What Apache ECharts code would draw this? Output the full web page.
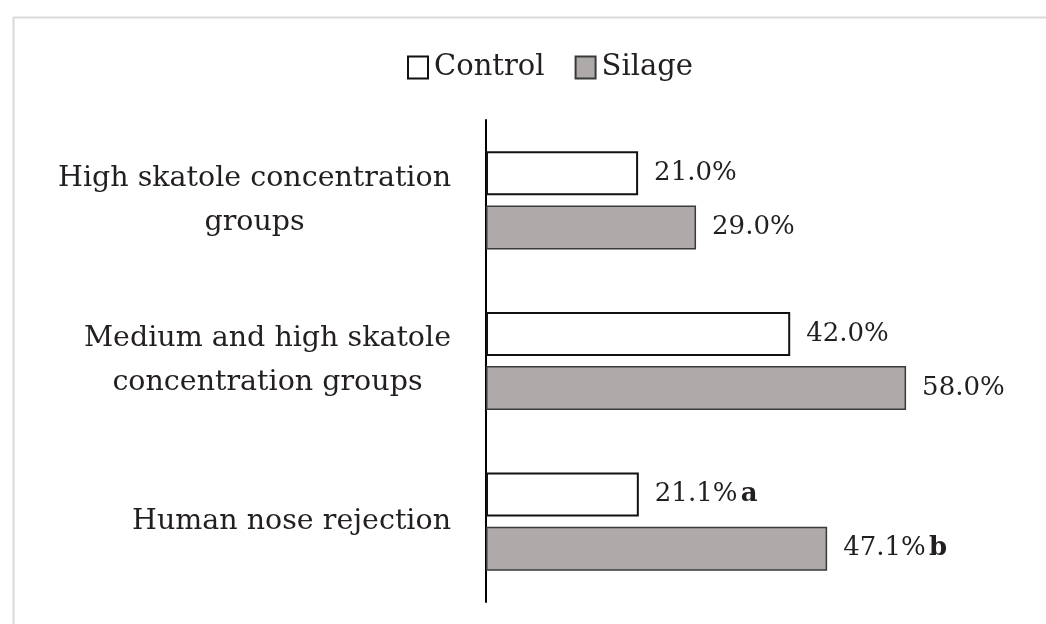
<!DOCTYPE html>
<html>
<head>
<meta charset="utf-8">
<script src="https://cdn.jsdelivr.net/npm/echarts@6/dist/echarts.min.js"></script>
<style>html,body{margin:0;padding:0;background:#fff;}#c{width:1046px;height:624px;}</style>
</head>
<body>
<div id="c"></div>
<script>
const categories = ['High skatole concentration\ngroups', 'Medium and high skatole\nconcentration groups', 'Human nose rejection'];
const controlValues = [21.0, 42.0, 21.1];
const silageValues = [29.0, 58.0, 47.1];
const controlLetters = ['', '', 'a'];
const silageLetters = ['', '', 'b'];

const FONT = 'DejaVu Serif';
const TXT = '#231f20';

function labelFmt(letters) {
  return function (p) {
    const v = p.value.toFixed(1) + '%';
    const l = letters[p.dataIndex];
    return l ? '{v|' + v + '} {s|' + l + '}' : '{v|' + v + '}';
  };
}
const labelRich = {
  v: { fontFamily: FONT, fontSize: 26, color: TXT },
  s: { fontFamily: FONT, fontSize: 26, fontWeight: 'bold', color: TXT }
};

const chart = echarts.init(document.getElementById('c'), null, { renderer: 'canvas' });
chart.setOption({
  backgroundColor: '#fff',
  animation: false,
  graphic: [{
    type: 'rect', silent: true, z: -1,
    shape: { x: 13.5, y: 17.5, width: 1200, height: 800 },
    style: { fill: 'none', stroke: '#d9d9d9', lineWidth: 2 }
  }],
  legend: {
    left: 402, top: 48,
    itemWidth: 20, itemHeight: 22, itemGap: 30,
    icon: 'rect',
    textStyle: { fontFamily: FONT, fontSize: 29, color: TXT, padding: [0, 0, 0, 1] },
    data: ['Control', 'Silage']
  },
  grid: { left: 486, right: 53, top: 120, bottom: 22, containLabel: false },
  xAxis: {
    type: 'value', min: 0, max: 70, show: false
  },
  yAxis: {
    type: 'category', inverse: true, data: categories,
    axisLine: { show: true, lineStyle: { color: '#000', width: 2 } },
    axisTick: { show: false },
    axisLabel: {
      margin: 35,
      formatter: function (v) {
        return v.split('\n').map(s => '{c|' + s + '}').join('\n');
      },
      rich: { c: { fontFamily: FONT, fontSize: 28.5, color: TXT, align: 'center', lineHeight: 44 } }
    }
  },
  series: [{
    name: 'Control', type: 'bar', data: controlValues,
    barWidth: '27.4%', barGap: '23%',
    itemStyle: { color: '#fff', borderColor: '#111', borderWidth: 2 },
    label: { show: true, position: 'right', distance: 16, formatter: labelFmt(controlLetters), rich: labelRich }
  }, {
    name: 'Silage', type: 'bar', data: silageValues,
    barWidth: '27.4%',
    itemStyle: { color: '#aeaaa9', borderColor: '#3a3a3a', borderWidth: 1.5 },
    label: { show: true, position: 'right', distance: 16, formatter: labelFmt(silageLetters), rich: labelRich }
  }]
});
</script>
</body>
</html>
